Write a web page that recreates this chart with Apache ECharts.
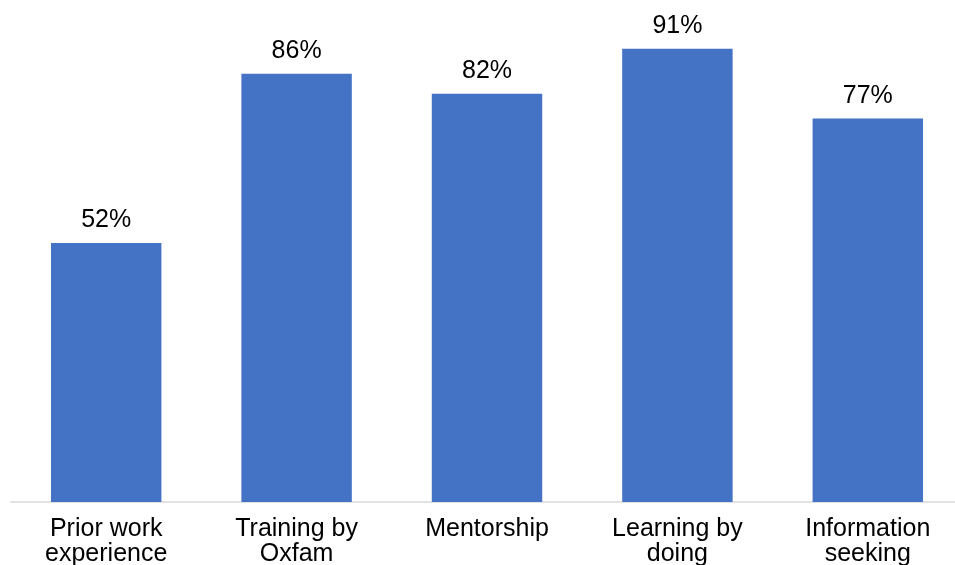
<!DOCTYPE html>
<html>
<head>
<meta charset="utf-8">
<script src="https://cdn.jsdelivr.net/npm/echarts@6/dist/echarts.min.js"></script>
<style>
  html, body { margin: 0; padding: 0; background: #ffffff; }
  #chart { width: 955px; height: 565px; }
</style>
</head>
<body>
<div id="chart"></div>
<script>
// Ways staff learned their skills (share of respondents, %)
const categories = [
  'Prior work\nexperience',
  'Training by\nOxfam',
  'Mentorship',
  'Learning by\ndoing',
  'Information\nseeking'
];
const shares = [52, 86, 82, 91, 77];

const chart = echarts.init(document.getElementById('chart'), null, { renderer: 'canvas' });

chart.setOption({
  animation: false,
  backgroundColor: '#ffffff',
  grid: {
    left: 11, width: 952, top: 4, bottom: 63,
    containLabel: false,
    outerBoundsMode: 'none'
  },
  xAxis: {
    type: 'category',
    data: categories,
    axisLine: { show: true, lineStyle: { color: '#d9d9d9', width: 1.5 } },
    axisTick: { show: false },
    axisLabel: {
      color: '#000000',
      fontFamily: 'Liberation Sans, Arial, sans-serif',
      fontSize: 25,
      lineHeight: 25,
      margin: 15,
      interval: 0
    }
  },
  yAxis: {
    type: 'value',
    min: 0,
    max: 100,
    show: false,
    splitLine: { show: false }
  },
  series: [{
    type: 'bar',
    data: shares,
    barWidth: '58%',
    itemStyle: { color: '#4472C4' },
    label: {
      show: true,
      position: 'top',
      distance: 10,
      color: '#000000',
      fontFamily: 'Liberation Sans, Arial, sans-serif',
      fontSize: 25,
      formatter: p => p.value + '%'
    }
  }]
});
</script>
</body>
</html>
